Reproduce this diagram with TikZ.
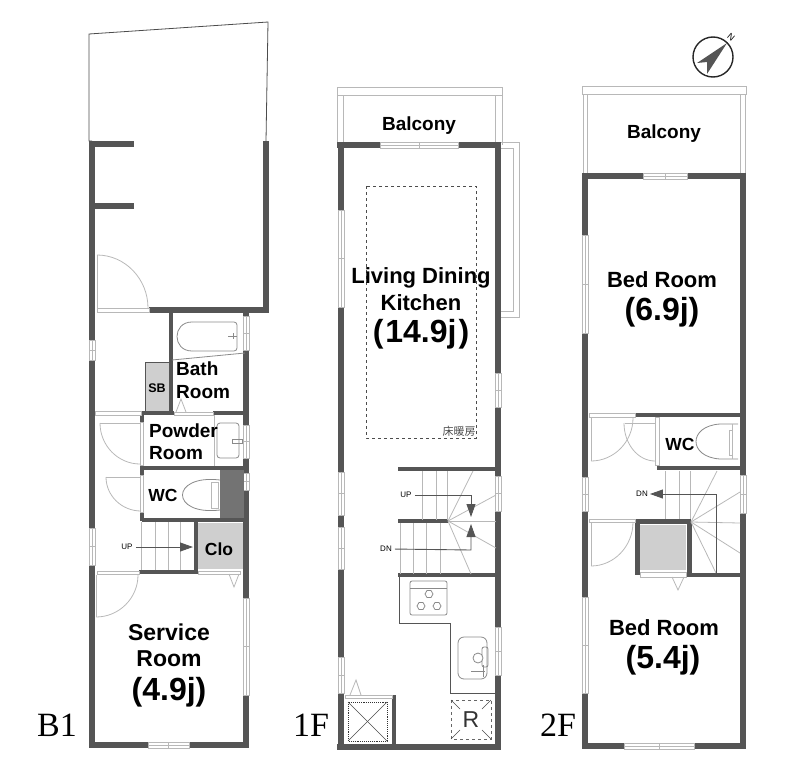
\documentclass[tikz,border=0pt]{standalone}
\usepackage{fontspec}
\setmainfont{Liberation Sans}
\newfontfamily\cjkfont{Noto Sans CJK JP}
\newfontfamily\floorfont{Liberation Serif}
\usetikzlibrary{arrows.meta}
\definecolor{wallgray}{HTML}{555555}
\definecolor{fixgray}{HTML}{8A8A8A}
\definecolor{palegray}{HTML}{B8B8B8}
\definecolor{boxgray}{HTML}{CFCFCF}
\tikzset{
  wall/.style={draw=wallgray,line width=6pt},
  inner wall/.style={draw=wallgray,line width=3.4pt},
  pale/.style={draw=palegray,line width=.8pt},
  fixture/.style={draw=fixgray,line width=.8pt},
  tread/.style={draw=palegray,line width=1pt},
  stairarrow/.style={draw=wallgray,line width=.9pt,-{Triangle[length=13pt,width=9pt]}},
  room/.style={font=\bfseries\fontsize{22}{22}\selectfont,inner sep=0pt},
  small room/.style={font=\bfseries\fontsize{19}{19}\selectfont,inner sep=0pt},
  area/.style={font=\bfseries\fontsize{32}{32}\selectfont,inner sep=0pt},
  floorname/.style={font=\floorfont\fontsize{34}{34}\selectfont,inner sep=0pt},
  updown/.style={font=\fontsize{8}{8}\selectfont,inner sep=0pt},
}
% windows: x, y from, y to  /  x from, x to, y
\newcommand{\vwin}[3]{%
  \filldraw[pale,fill=white] (#1-3,#2) rectangle (#1+3,#3);
  \draw[pale] (#1,#2) -- (#1,#3);
  \draw[pale] (#1-3,{(#2+#3)/2}) -- (#1+3,{(#2+#3)/2});}
\newcommand{\hwin}[3]{%
  \filldraw[pale,fill=white] (#1,#3-3) rectangle (#2,#3+3);
  \draw[pale] (#1,#3) -- (#2,#3);
  \draw[pale] ({(#1+#2)/2},#3-3) -- ({(#1+#2)/2},#3+3);}
% door swing, level at the first point, upright at the second
\newcommand{\swing}[4]{%
  \draw[pale] (#1,#2) .. controls ({#1+.55*(#3-#1)},#2) and (#3,{#4-.55*(#4-#2)}) .. (#3,#4);}
\begin{document}
\begin{tikzpicture}[x=1pt,y=-1pt]
  \useasboundingbox (0,0) rectangle (800,771);

  % ---- B1 ----
  \draw[pale,draw=black!70] (92,141) -- (89,141) -- (89,34) -- (268,22) -- (266,141);
  \draw[wall] (92,141) -- (92,748);
  \draw[wall] (89,144) -- (134,144);
  \draw[wall] (92,206) -- (134,206);
  \draw[wall] (266,141) -- (266,313);
  \draw[wall] (149,310) -- (269,310);
  \draw[wall] (246,313) -- (246,748);
  \draw[wall] (89,745) -- (249,745);
  \draw[inner wall] (171,312) -- (171,413);
  \draw[inner wall] (142,413) -- (174,413);
  \draw[inner wall] (213,413) -- (246,413);
  \draw[inner wall] (142,468) -- (246,468);
  \draw[inner wall] (142,520) -- (246,520);
  \draw[inner wall] (196,520) -- (196,572);
  \draw[inner wall] (139,572) -- (198,572);
  \draw[inner wall] (142,412) -- (142,422);
  \draw[inner wall] (142,465) -- (142,475);
  \draw[inner wall] (142,512) -- (142,521);
  \vwin{92}{340}{360}
  \vwin{92}{528}{565}
  \vwin{246}{316}{350}
  \vwin{246}{425}{458}
  \vwin{246}{473}{490}
  \vwin{246}{598}{695}
  \hwin{148}{189}{745}
  % thresholds and door leaves
  \filldraw[pale,fill=white] (97,308) rectangle (149,312);
  \filldraw[pale,fill=white] (97,571) rectangle (139,574);
  \filldraw[pale,fill=white] (198,571) rectangle (240,574);
  \filldraw[pale,fill=white] (95,411) rectangle (141,415);
  \filldraw[pale,fill=white] (174,412) rectangle (213,415);
  \filldraw[pale,fill=white] (140,422) rectangle (143,465);
  \filldraw[pale,fill=white] (140,475) rectangle (143,512);
  \draw[pale] (97,308) -- (97,255);
  \swing{97}{255}{148}{308}
  \draw[pale] (96,575) -- (96,617);
  \swing{96}{617}{138}{575}
  \draw[pale] (100,423) -- (140,423);
  \swing{140}{464}{100}{423}
  \draw[pale] (106,477) -- (141,477);
  \swing{141}{511}{106}{477}
  \draw[pale] (229,574) -- (234,587) -- (239,574);
  \draw[pale] (176,412) -- (181,399) -- (186,412);
  % fixtures
  \draw[fixture] (172,360) -- (245,353);
  \draw[fixture,rounded corners=3pt] (192,322) -- (237,322) -- (237,351) -- (192,351);
  \draw[fixture] (192,351) .. controls (172,351) and (172,322) .. (192,322);
  \draw[fixture] (228,336) -- (237,336);
  \draw[fixture] (233,333) -- (233,339);
  \filldraw[draw=wallgray,line width=.8pt,fill=boxgray] (145,362) rectangle (169,411);
  \fill[boxgray] (198,523) rectangle (243,569);
  \fill[black!55] (220,470) rectangle (244,518);
  \draw[pale] (214,415) -- (214,466);
  \draw[fixture,rounded corners=3pt] (217,423) rectangle (239,458);
  \draw[fixture] (232,439) rectangle (242,443);
  \draw[fixture] (220,480) .. controls (170,474) and (170,516) .. (220,510);
  \draw[pale] (211,482) rectangle (218,508);
  \foreach \tx in {141,155,168,180} {
    \draw[tread] (\tx,522) -- (\tx,570); }
  \node[updown] (upB) at (127,547) {UP};
  \coordinate (upBtip) at (193,547);
  \draw[stairarrow,shorten <=3pt] (upB.east) -- (upBtip);

  \node[small room,anchor=west] (bath) at (176,369) {Bath};
  \node[small room,anchor=west] (bathroom) at (176,392) {Room};
  \node[font=\bfseries\fontsize{12.5}{12.5}\selectfont,inner sep=0pt] (sb) at (157,388) {SB};
  \node[small room,anchor=west] (powder) at (149,431) {Powder};
  \node[small room,anchor=west] (powderroom) at (149,453) {Room};
  \node[small room,font=\bfseries\fontsize{17.5}{17.5}\selectfont] (wcB) at (163,495) {WC};
  \node[small room,font=\bfseries\fontsize{17.5}{17.5}\selectfont] (clo) at (219,549) {Clo};
  \node[room,font=\bfseries\fontsize{23}{23}\selectfont] (service) at (169,632) {Service};
  \node[room,font=\bfseries\fontsize{23}{23}\selectfont] (serviceroom) at (169,659) {Room};
  \node[area] (areaB) at (169,692) {(4.9j)};
  \node[floorname] (nameB) at (57,725) {B1};

  % ---- 1F ----
  \draw[pale] (337,145) -- (337,87) -- (502,87) -- (502,145);
  \draw[pale] (337,95) -- (502,95);
  \draw[pale] (343,95) -- (343,143);
  \draw[pale] (495,95) -- (495,143);
  \draw[pale] (501,142) -- (519,142) -- (519,317) -- (501,317);
  \draw[pale] (501,148) -- (513,148) -- (513,311) -- (501,311);
  \draw[wall] (341,142) -- (341,750);
  \draw[wall] (498,142) -- (498,750);
  \draw[wall] (337,145) -- (501,145);
  \draw[wall] (337,747) -- (501,747);
  \draw[inner wall] (398,469) -- (498,469);
  \draw[inner wall] (398,521) -- (448,521);
  \draw[inner wall] (398,575) -- (498,575);
  \draw[inner wall] (394,695) -- (394,745);
  \hwin{380}{458}{145}
  \vwin{341}{210}{307}
  \vwin{341}{472}{515}
  \vwin{341}{527}{569}
  \vwin{341}{657}{693}
  \vwin{498}{373}{407}
  \vwin{498}{476}{511}
  \vwin{498}{627}{675}
  \draw[black!70,dashed,line width=.8pt] (366,186) rectangle (476,438);
  \node[font=\cjkfont\fontsize{11}{11}\selectfont,text=black!70,inner sep=0pt] (heating) at (459,431) {床暖房};
  % stairs
  \foreach \tx in {422,436,447} {
    \draw[tread] (\tx,471) -- (\tx,520); }
  \foreach \tx in {400,413,426,440} {
    \draw[tread] (\tx,523) -- (\tx,574); }
  \foreach \ex/\ey in {473/471,496/495,496/521,496/548,471/574} {
    \draw[pale] (448,521) -- (\ex,\ey); }
  \node[updown] (upA) at (406,495) {UP};
  \coordinate (upAbend) at (471,495);
  \coordinate (upAtip) at (471,517);
  \draw[stairarrow,shorten <=3pt] (upA.east) -- (upAbend) -- (upAtip);
  \node[updown] (dnA) at (386,549) {DN};
  \coordinate (dnAbend) at (471,550);
  \coordinate (dnAtip) at (471,524);
  \draw[stairarrow,shorten <=3pt] (dnA.east) -- (dnAbend) -- (dnAtip);
  % kitchen
  \draw[draw=wallgray,line width=1pt] (399,575) -- (399,623) -- (450,623) -- (450,693) -- (496,693);
  \draw[fixture,rounded corners=2pt] (410,581) rectangle (447,615);
  \draw[fixture] (410,588) -- (447,588);
  \foreach \bx/\by in {429/594,421/606,437/606} {
    \draw[fixture] ({\bx+4},\by) -- ({\bx+2},{\by+3.5}) -- ({\bx-2},{\by+3.5}) -- ({\bx-4},\by) -- ({\bx-2},{\by-3.5}) -- ({\bx+2},{\by-3.5}) -- cycle; }
  \draw[fixture,rounded corners=6pt] (458,637) rectangle (487,679);
  \draw[fixture,rounded corners=2pt] (482,647) rectangle (488,667);
  \filldraw[fixture,fill=white] (478,658) circle [radius=5pt];
  \draw[fixture] (471,671) -- (485,671);
  \draw[fixture] (483,665) -- (483,677);
  % closet and fridge
  \filldraw[pale,fill=white] (345,695) rectangle (392,698);
  \draw[pale] (350,695) -- (356,680) -- (361,695);
  \draw[black!80,densely dotted,line width=.9pt] (348,702) rectangle (387,741);
  \draw[black!70,line width=.6pt] (348,702) -- (387,741);
  \draw[black!70,line width=.6pt] (348,741) -- (387,702);
  \draw[black!60,dashed,line width=.8pt] (451,700) rectangle (491,739);
  \foreach \ax/\ay/\bx/\by in {451/700/460/709,491/700/482/709,451/739/460/730,491/739/482/730} {
    \draw[black!70,line width=.6pt] (\ax,\ay) -- (\bx,\by); }
  \node[font=\fontsize{23}{23}\selectfont,inner sep=0pt,text=black!80] (fridge) at (471,720) {R};

  \node[small room] (balconyA) at (419,126) {Balcony};
  \node[room] (living) at (421,278) {Living Dining};
  \node[room] (kitchen) at (421,303) {Kitchen};
  \node[area] (areaA) at (421,334) {(\kern2pt 14.9j\kern2pt)};
  \node[floorname] (nameA) at (311,725) {1F};

  % ---- 2F ----
  \draw[pale] (582,94) rectangle (746,86);
  \draw[pale] (583,94) -- (583,176);
  \draw[pale] (587,94) -- (587,174);
  \draw[pale] (740,94) -- (740,174);
  \draw[pale] (745,94) -- (745,176);
  \draw[wall] (585,173) -- (585,749);
  \draw[wall] (743,173) -- (743,749);
  \draw[wall] (582,176) -- (746,176);
  \draw[wall] (582,746) -- (746,746);
  \draw[inner wall] (635,415) -- (742,415);
  \draw[inner wall] (657,468) -- (742,468);
  \draw[wall,line width=5pt] (637,521) -- (637,575);
  \draw[wall,line width=5pt] (635,521) -- (691,521);
  \draw[wall,line width=5pt] (689,521) -- (689,575);
  \draw[inner wall] (686,575) -- (742,575);
  \hwin{643}{687}{176}
  \hwin{624}{694}{746}
  \vwin{585}{235}{333}
  \vwin{585}{477}{511}
  \vwin{585}{597}{693}
  \vwin{743}{475}{513}
  \fill[boxgray] (640,525) rectangle (686,570);
  \filldraw[pale,fill=white] (640,572) rectangle (686,577);
  \draw[pale] (672,577) -- (678,590) -- (684,577);
  % doors
  \filldraw[pale,fill=white] (589,413) rectangle (635,417);
  \filldraw[pale,fill=white] (655,417) rectangle (659,465);
  \filldraw[pale,fill=white] (589,519) rectangle (635,522);
  \draw[pale] (591,418) -- (591,461);
  \swing{591}{461}{633}{418}
  \draw[pale] (625,423) -- (655,423);
  \swing{655}{461}{624}{423}
  \draw[pale] (591,522) -- (591,566);
  \swing{591}{566}{633}{522}
  % toilet
  \draw[fixture] (738,424) -- (720,424) .. controls (688,426) and (688,457) .. (720,459) -- (738,459);
  \draw[pale] (732,424) -- (732,459);
  \draw[pale] (729,430) rectangle (732,455);
  % stairs
  \foreach \tx in {665,679,690} {
    \draw[tread] (\tx,471) -- (\tx,519); }
  \foreach \ex/\ey in {717/471,740/492,740/523,740/553,716/573} {
    \draw[pale] (691,522) -- (\ex,\ey); }
  \coordinate (dnCstart) at (716,574);
  \coordinate (dnCbend) at (716,494);
  \node[updown] (dnC) at (642,494) {DN};
  \draw[stairarrow,shorten >=2pt] (dnCstart) -- (dnCbend) -- (dnC.east);

  \node[small room] (balconyC) at (664,134) {Balcony};
  \node[room] (bedA) at (662,280) {Bed Room};
  \node[area] (areaC) at (662,312) {(6.9j)};
  \node[small room,font=\bfseries\fontsize{17.5}{17.5}\selectfont] (wcC) at (680,444) {WC};
  \node[room] (bedB) at (664,628) {Bed Room};
  \node[area] (areaD) at (663,660) {(5.4j)};
  \node[floorname] (nameC) at (558,725) {2F};

  % compass
  \draw[black!85,line width=1.4pt] (713,57) circle [radius=20pt];
  \fill[wallgray] (727,43) -- (697,63) -- (707,62) -- (707,74) -- cycle;
  \node[font=\fontsize{9}{9}\selectfont,rotate=-40,inner sep=0pt] (north) at (731,37) {N};
\end{tikzpicture}
\end{document}
